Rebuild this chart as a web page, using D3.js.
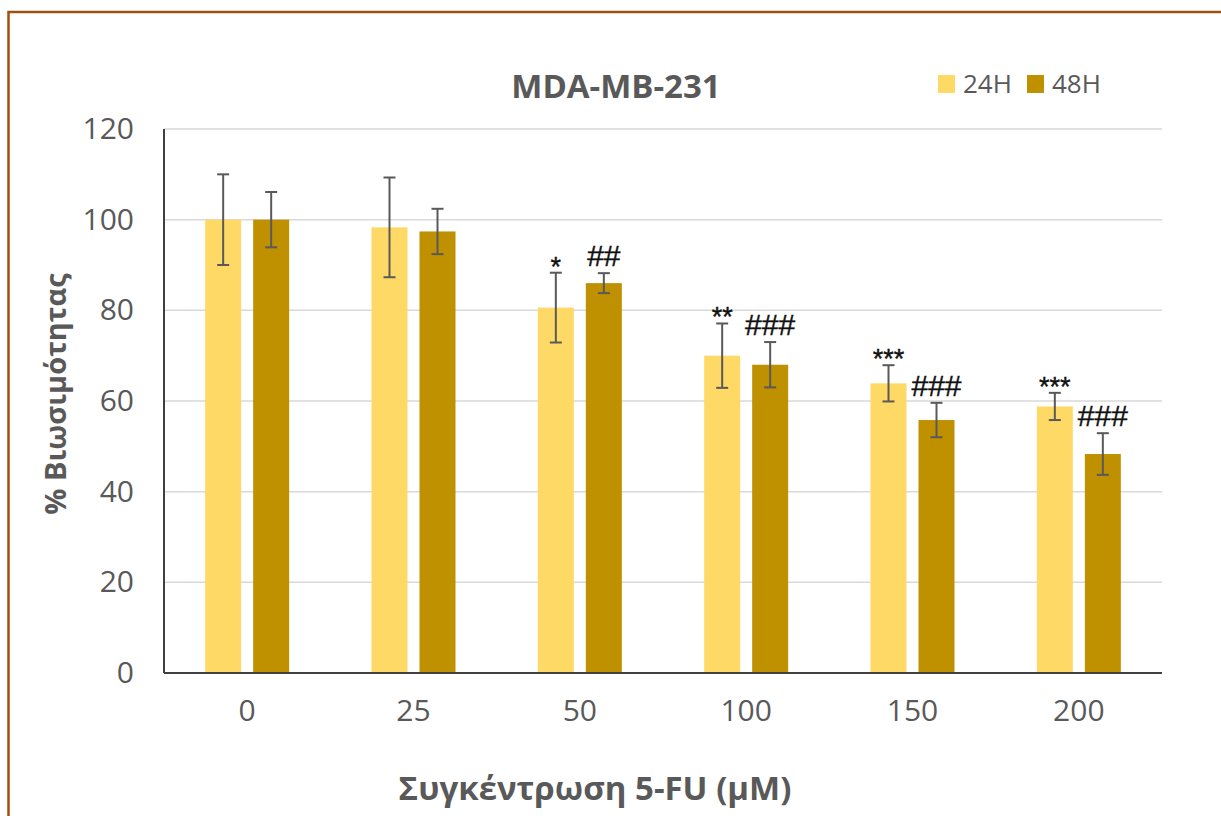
<!DOCTYPE html>
<html>
<head>
<meta charset="utf-8">
<script src="https://cdn.jsdelivr.net/npm/d3@7"></script>
<style>
  html, body { margin: 0; padding: 0; background: #fff; }
  svg { display: block; }
</style>
</head>
<body>
<svg id="chart" width="1221" height="816"></svg>
<script>
// Concentrations of 5-FU (µM)
const concentrations = ["0", "25", "50", "100", "150", "200"];
const seriesNames = ["24H", "48H"];

// % viability (mean) per concentration
const viability24 = [100, 98.3, 80.6, 70.0, 63.9, 58.8];
const viability48 = [100, 97.4, 86.0, 68.0, 55.8, 48.3];

// standard deviation per concentration
const error24 = [10.0, 11.0, 7.7, 7.1, 4.0, 3.0];
const error48 = [6.1, 5.0, 2.2, 5.0, 3.8, 4.6];

// significance marks
const sig24 = ["", "", "*", "**", "***", "***"];
const sig48 = ["", "", "##", "###", "###", "###"];

const yTicks = [0, 20, 40, 60, 80, 100, 120];

const colors = { "24H": "#FFD966", "48H": "#BF9000" };
const textGray = "#595959";

const svg = d3.select("#chart");

// outer frame
svg.append("rect")
  .attr("x", 8.5).attr("y", 12)
  .attr("width", 1300).attr("height", 900)
  .attr("fill", "#fff")
  .attr("stroke", "#A04F0E").attr("stroke-width", 2.5);

const plot = { left: 164, right: 1162, top: 129, bottom: 673 };

const y = d3.scaleLinear().domain([0, 120]).range([plot.bottom, plot.top]);
const x0 = d3.scaleBand().domain(concentrations)
  .range([plot.left, plot.right]).paddingInner(0.495).paddingOuter(0.2475);
const x1 = d3.scaleBand().domain(seriesNames)
  .range([0, x0.bandwidth()]).paddingInner(0.25);

// gridlines
svg.append("g").selectAll("line")
  .data(yTicks.filter(d => d > 0))
  .join("line")
  .attr("x1", plot.left).attr("x2", plot.right)
  .attr("y1", d => y(d)).attr("y2", d => y(d))
  .attr("stroke", "#D9D9D9").attr("stroke-width", 1.5);

// y axis labels
const yAxis = d3.axisLeft(y).tickValues(yTicks).tickSize(0).tickPadding(30);
const gy = svg.append("g").attr("transform", `translate(${plot.left},0)`).call(yAxis);
gy.select(".domain").remove();
gy.selectAll("text")
  .attr("font-family", "'Open Sans', sans-serif")
  .attr("font-size", 30).attr("fill", textGray);

// x axis labels
const xAxis = d3.axisBottom(x0).tickSize(0).tickPadding(27);
const gx = svg.append("g").attr("transform", `translate(0,${plot.bottom})`).call(xAxis);
gx.select(".domain").remove();
gx.selectAll("text")
  .attr("font-family", "'Open Sans', sans-serif")
  .attr("font-size", 30).attr("fill", textGray);

// rows of bar data
const rows = concentrations.map((c, i) => ({
  c,
  bars: [
    { s: "24H", v: viability24[i], e: error24[i], sig: sig24[i] },
    { s: "48H", v: viability48[i], e: error48[i], sig: sig48[i] }
  ]
}));

const groups = svg.append("g").selectAll("g")
  .data(rows).join("g")
  .attr("transform", d => `translate(${x0(d.c)},0)`);

groups.selectAll("rect")
  .data(d => d.bars).join("rect")
  .attr("x", d => x1(d.s))
  .attr("width", x1.bandwidth())
  .attr("y", d => y(d.v))
  .attr("height", d => y(0) - y(d.v))
  .attr("fill", d => colors[d.s]);

// error bars
const eb = groups.selectAll("g.err")
  .data(d => d.bars).join("g").attr("class", "err")
  .attr("stroke", "#595959").attr("stroke-width", 2);
const cx = d => x1(d.s) + x1.bandwidth() / 2;
eb.append("line")
  .attr("x1", cx).attr("x2", cx)
  .attr("y1", d => y(d.v + d.e)).attr("y2", d => y(d.v - d.e));
eb.append("line")
  .attr("x1", d => cx(d) - 6).attr("x2", d => cx(d) + 6)
  .attr("y1", d => y(d.v + d.e)).attr("y2", d => y(d.v + d.e));
eb.append("line")
  .attr("x1", d => cx(d) - 6).attr("x2", d => cx(d) + 6)
  .attr("y1", d => y(d.v - d.e)).attr("y2", d => y(d.v - d.e));

// significance marks
groups.selectAll("text.sig")
  .data(d => d.bars.filter(b => b.sig)).join("text").attr("class", "sig")
  .attr("x", cx)
  .attr("y", d => y(d.v + d.e) + (d.s === "24H" ? 3 : -7))
  .attr("text-anchor", "middle")
  .attr("font-family", "'Liberation Sans', Arial, sans-serif")
  .attr("font-size", d => d.s === "24H" ? 27 : 30)
  .attr("fill", "#111")
  .attr("stroke", "#111").attr("stroke-width", 0.4)
  .text(d => d.sig);

// axis lines
svg.append("line")
  .attr("x1", plot.left).attr("x2", plot.left)
  .attr("y1", plot.top).attr("y2", plot.bottom)
  .attr("stroke", "#404040").attr("stroke-width", 2);
svg.append("line")
  .attr("x1", plot.left).attr("x2", plot.right)
  .attr("y1", plot.bottom).attr("y2", plot.bottom)
  .attr("stroke", "#404040").attr("stroke-width", 2);

// chart title
svg.append("text")
  .attr("x", 616).attr("y", 98)
  .attr("text-anchor", "middle")
  .attr("font-family", "'Open Sans', sans-serif")
  .attr("font-weight", "bold").attr("font-size", 33)
  .attr("fill", textGray)
  .text("MDA-MB-231");

// axis titles
svg.append("text")
  .attr("transform", "translate(66,394) rotate(-90)")
  .attr("text-anchor", "middle")
  .attr("font-family", "'Open Sans', sans-serif")
  .attr("font-weight", "bold").attr("font-size", 29)
  .attr("fill", textGray)
  .text("% Βιωσιμότητας");

svg.append("text")
  .attr("x", 595).attr("y", 800)
  .attr("text-anchor", "middle")
  .attr("font-family", "'Open Sans', sans-serif")
  .attr("font-weight", "bold").attr("font-size", 33)
  .attr("fill", textGray)
  .text("Συγκέντρωση 5-FU (μM)");

// legend
const legendX = [938, 1027];
const legend = svg.append("g").selectAll("g")
  .data(seriesNames).join("g")
  .attr("transform", (d, i) => `translate(${legendX[i]},0)`);
legend.append("rect")
  .attr("x", 0).attr("y", 75).attr("width", 17).attr("height", 18)
  .attr("fill", d => colors[d]);
legend.append("text")
  .attr("x", 25).attr("y", 93)
  .attr("font-family", "'Open Sans', sans-serif")
  .attr("font-size", 26).attr("fill", textGray)
  .text(d => d);
</script>
</body>
</html>
